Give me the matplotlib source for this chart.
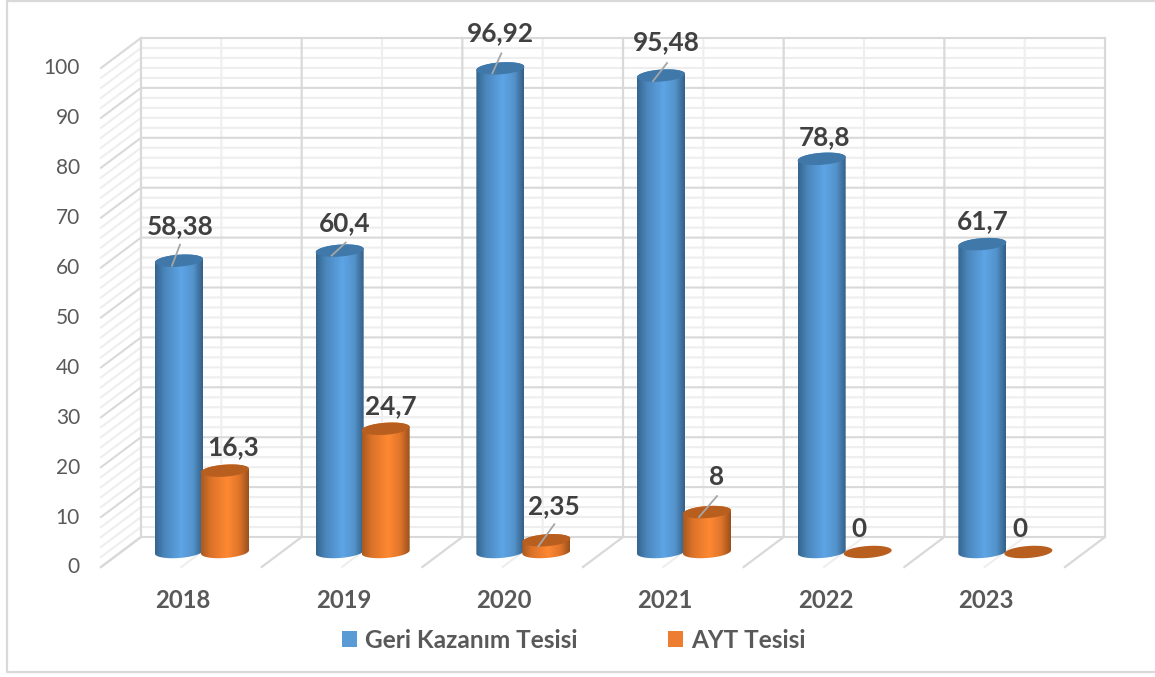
import numpy as np
import matplotlib
matplotlib.use("Agg")
import matplotlib.pyplot as plt
from matplotlib.colors import LinearSegmentedColormap
from matplotlib.patches import Patch, Polygon

years = ["2018", "2019", "2020", "2021", "2022", "2023"]
geri_kazanim = [58.38, 60.4, 96.92, 95.48, 78.8, 61.7]
ayt = [16.3, 24.7, 2.35, 8, 0, 0]
geri_labels = ["58,38", "60,4", "96,92", "95,48", "78,8", "61,7"]
ayt_labels = ["16,3", "24,7", "2,35", "8", "0", "0"]
y_ticks = [0, 10, 20, 30, 40, 50, 60, 70, 80, 90, 100]

plt.rcParams["font.family"] = ["Lato", "DejaVu Sans"]

# one unit on each scale, in pixels
PX = 160.67
PY = 4.99
W, H = 1155, 677
X0, Y0 = 101, 567  # front corner of the floor

# depth of the box and of the bars, in data units
DX, DY = 40 / PX, 30 / PY
BAR_DY = 15 / PY
BLUE_X, ORANGE_X = 78 / PX, 124 / PX
A, B, SLOPE = 24, 6, 0.07

fig = plt.figure(figsize=(W / 100, H / 100), dpi=100)
ax = fig.add_axes([0, 0, 1, 1])
xlim = (-X0 / PX, (W - X0) / PX)
ylim = (-(H - Y0) / PY, Y0 / PY)
ax.axis("off")

n = len(years)
MAJOR, MINOR = "#d9d9d9", "#eeeeee"

# frame around the chart
ax.plot([xlim[1], -94 / PX, -94 / PX, xlim[1]],
        [ylim[1] - 1 / PY, ylim[1] - 1 / PY, ylim[0] + 5 / PY, ylim[0] + 5 / PY],
        color="#d9d9d9", lw=1.6, clip_on=False)

# minor gridlines first (walls)
for v in range(0, 101, 2):
    if v % 10 == 0:
        continue
    ax.plot([0, DX, n + DX], [v, v + DY, v + DY], color=MINOR, lw=1.5, zorder=1)
for i in range(n):
    ax.plot([i + 0.5, i + 0.5 + DX, i + 0.5 + DX], [0, DY, 100 + DY],
            color=MINOR, lw=1.5, zorder=1)

# major gridlines
for v in y_ticks:
    ax.plot([0, DX, n + DX], [v, v + DY, v + DY], color=MAJOR, lw=1.5, zorder=2)
for i in range(n + 1):
    ax.plot([i, i + DX, i + DX], [0, DY, 100 + DY], color=MAJOR, lw=1.6, zorder=2)


def ellipse(cx, cy, t):
    x = A * np.cos(t)
    y = B * np.sin(t) + SLOPE * x
    return cx + x / PX, cy + y / PY


def cylinder(cx, value, stops, top_color, zorder):
    base = BAR_DY
    top = base + value
    t = np.linspace(0, 2 * np.pi, 80)
    if value > 0:
        tb = np.linspace(np.pi, 2 * np.pi, 40)
        tt = np.linspace(0, np.pi, 40)
        xb, yb = ellipse(cx, base, tb)
        xt, yt = ellipse(cx, top, tt)
        verts = np.column_stack([np.r_[xb, xt], np.r_[yb, yt]])
        poly = Polygon(verts, closed=True, fc="none", ec="none",
                       transform=ax.transData)
        ax.add_patch(poly)
        cmap = LinearSegmentedColormap.from_list("c", stops)
        grad = np.linspace(0, 1, 128).reshape(1, -1)
        im = ax.imshow(grad, cmap=cmap, aspect="auto", zorder=zorder,
                       extent=[cx - A / PX, cx + A / PX,
                               base - 10 / PY, top + 10 / PY])
        im.set_clip_path(poly)
    xe, ye = ellipse(cx, top, t)
    ax.add_patch(Polygon(np.column_stack([xe, ye]), closed=True, fc=top_color,
                         ec="none", zorder=zorder + 0.1))


blue_stops = [(0, "#35658f"), (0.2, "#4b86bb"), (0.55, "#5da5e6"),
              (0.8, "#5493cc"), (1, "#345f86")]
orange_stops = [(0, "#a85a20"), (0.2, "#dc7229"), (0.55, "#ff8932"),
                (0.8, "#e0752b"), (1, "#9a501c")]

for i in range(n):
    cylinder(i + BLUE_X, geri_kazanim[i], blue_stops, "#3f78a9", 5)
for i in range(n):
    cylinder(i + ORANGE_X, ayt[i], orange_stops, "#b85f20", 6)

# leader lines: start/end offset from centre of the bar top, in px
geri_leaders = [(-7, 5, 1, -16), (-8, 5, 6, -8), (-8, 5, 1, -15),
                (-8, 5.5, 6, -12.5), None, None]
ayt_leaders = [None, None, (-8, 6, 8, -16), (-8, 5, 10, -16), None, None]

# label centre, offset from bar top centre, in px
geri_text = [(1, -35), (5, -27), (0, -35), (5, -33.5), (3, -22), (0, -23)]
ayt_text = [(8, -24), (5, -23), (8, -34), (10, -35), (-8.5, -23), (-8.5, -23)]


def annotate_bars(offset, values, labels, leaders, text_off):
    for i, v in enumerate(values):
        cx = i + offset
        cy = BAR_DY + v
        if leaders[i] is not None:
            x1, y1, x2, y2 = leaders[i]
            ax.plot([cx + x1 / PX, cx + x2 / PX], [cy - y1 / PY, cy - y2 / PY],
                    color="#a6a6a6", lw=1.3, zorder=8)
        dx, dy = text_off[i]
        ax.text(cx + dx / PX, cy - dy / PY, labels[i], ha="center", va="center",
                fontsize=18.8, fontweight="bold", color="#404040", zorder=9)


annotate_bars(BLUE_X, geri_kazanim, geri_labels, geri_leaders, geri_text)
annotate_bars(ORANGE_X, ayt, ayt_labels, ayt_leaders, ayt_text)

# axis labels
for v in y_ticks:
    ax.text(-21 / PX, v - 0.4 / PY, str(v), ha="right", va="center",
            fontsize=15, color="#595959")
for i, y in enumerate(years):
    ax.text(i + 82 / PX, -33 / PY, y, ha="center", va="center",
            fontsize=17.2, fontweight="bold", color="#595959")

handles = [Patch(fc="#5b9bd5", ec="none", label="Geri Kazanım Tesisi"),
           Patch(fc="#ed7d31", ec="none", label="AYT Tesisi")]
fig.legend(handles=handles, loc="center", ncol=2, frameon=False,
           bbox_to_anchor=(574 / W, 1 - 640 / H),
           handlelength=0.6, handleheight=0.6, handletextpad=0.35,
           columnspacing=3.7, borderpad=0, labelcolor="#595959",
           prop={"family": "Lato", "weight": "bold", "size": 17.6})

ax.set_xlim(xlim)
ax.set_ylim(ylim)
fig.savefig("out.png", dpi=100)
